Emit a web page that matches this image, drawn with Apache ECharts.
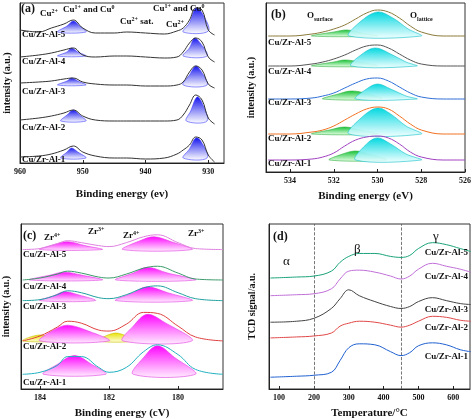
<!DOCTYPE html>
<html><head><meta charset="utf-8">
<script src="https://cdn.jsdelivr.net/npm/echarts@6/dist/echarts.min.js"></script>
<style>html,body{margin:0;padding:0;background:#fff}#c{width:474px;height:420px}</style>
</head><body><div id="c"></div>
<script>
// ---------- DATA ----------
const samples = ['Cu/Zr-Al-5','Cu/Zr-Al-4','Cu/Zr-Al-3','Cu/Zr-Al-2','Cu/Zr-Al-1'];
// (a) Cu 2p
const aX = [960,957,955,953,951.5,950,948,945,943,940,937,935,934,933,932,931,930,929];
const aY5 = [133,131,135,139,143,135,130,130,131,130,129,132,135,143,155,153,133,128];
const aY4 = [106,108,110,113,115,108,106,107,107,106,105,106,111,120,125,121,106,101];
const aY3 = [80,81,82,84,85,81,79,78,78,77,77,78,81,91,97,93,79,75];
const aY2 = [43,45,47,50,53,47,43,42,42,42,42,43,48,58,68,63,45,39];
const aY1 = [6,7,9,13,17,11,7,5,5,4,5,9,13,18,26,23,8,1];
const aPeaks = [
 [[954,131],[952.5,137],[951.5,142],[950.5,137],[949.5,131]],
 [[934,131],[933,140],[932,155],[931,150],[930,132]],
 [[954,107],[952.5,111],[951.8,115],[950.8,111],[949.5,107]],
 [[934,107],[933,115],[932.2,125],[931.3,120],[930.2,107]],
 [[954,78],[952.5,82],[951.8,85],[950.8,82],[949.5,78]],
 [[934,78],[933,88],[932,97],[931.2,92],[930.2,78]],
 [[953.5,42],[952.5,48],[951.5,53],[950.5,48],[949.5,42]],
 [[933.5,42],[932.8,52],[931.8,66],[931,60],[930.2,42]],
 [[953.5,5],[952.5,11],[951.8,15],[950.8,11],[949.5,5]],
 [[934,5],[933,14],[932,25],[931.2,22],[930.2,5]]
];
// (b) O 1s
const bX = [535,534,533,532.5,532,531.5,531,530.5,530,529.5,529,528.5,528,527,526];
const bY5 = [136,136,138,140,143,147,153,159,162,160,154,146,140,136,136];
const bY4 = [106,106,108,110,113,117,122,126,127,124,118,112,108,106,106];
const bY3 = [73,73,74,76,79,84,89,93,94,91,85,79,75,73,73];
const bY2 = [38,38,40,42,46,52,58,63,65,63,56,48,42,38,38];
const bY1 = [12,12,13,15,19,26,32,35,36,34,28,20,15,12,12];
const bLattice = [
 [[531.3,136],[530.8,150],[530,160],[529.3,154],[528.6,143],[528,136]],
 [[531.2,106],[530.7,118],[530.1,124],[529.4,118],[528.7,110],[528.2,106]],
 [[531,73],[530.5,83],[530,88],[529.4,83],[528.7,76],[528.2,73]],
 [[531.3,38],[530.7,55],[530,64],[529.4,58],[528.7,46],[528,38]],
 [[531,12],[530.5,28],[530,34],[529.4,28],[528.7,18],[528,12]]
];
const bSurface = [
 [[533,136],[532,140],[531.4,142],[530.7,139],[530,136]],
 [[533,106],[532,110],[531.5,112],[530.8,110],[530,106]],
 [[532.5,73],[531.8,78],[531.2,81],[530.6,79],[529.8,73]],
 [[533,38],[532.2,42],[531.5,45],[530.8,42],[530,38]],
 [[532.2,12],[531.6,18],[531,21],[530.4,18],[529.6,12]]
];
// (c) Zr 3d
const cX = [184.5,184,183.5,183.2,182.8,182.3,182,181.5,181,180.6,180,179.5,178.7];
const cY5 = [142,143,148,151,149,146,145,149,155,157,149,143,142];
const cY4 = [111,113,117,120,118,114,113,117,123,125,118,112,111];
const cY3 = [90,91,96,100,98,93,92,96,103,105,98,92,90];
const cY2 = [49,54,63,69,67,60,59,66,78,77,64,53,49];
const cY1 = [15,17,24,33,33,22,17,22,38,45,35,20,15];
const cZr3 = [
 [[184,142],[183.6,147],[183.2,150],[182.7,146],[182.2,142]],
 [[181.6,142],[181.1,151],[180.7,155],[180.2,150],[179.6,142]],
 [[184.3,111],[183.7,116],[183.3,119],[182.8,116],[182.2,111]],
 [[181.8,111],[181.3,118],[180.9,124],[180.3,118],[179.5,111]],
 [[184,90],[183.6,95],[183.3,99],[182.9,96],[182.4,90]],
 [[181.8,90],[181.3,98],[180.9,104],[180.3,98],[179.6,90]],
 [[184,49],[183.6,60],[183.2,65],[182.6,59],[182,49]],
 [[181.6,49],[181.3,64],[180.9,76],[180.4,68],[179.6,49]],
 [[183.9,15],[183.5,25],[183,34],[182.5,25],[182.1,15]],
 [[181.3,15],[181,32],[180.6,44],[180.1,32],[179.5,15]]
];
const cZr4 = [
 [[184.5,49],[184,55],[183.5,49]],
 [[182.3,49],[181.8,57],[181.3,49]]
];
// (d) H2-TPR
const dX = [75,150,200,250,275,300,330,375,420,450,475,500,540,580,620,650];
const dY5 = [113,114,115,120,129,135,138,138,135,134,136,143,149,147,143,140];
const dY4 = [95,96,97,102,112,120,121,119,115,112,115,122,128,125,122,119];
const dY3 = [68,69,72,82,92,101,95,89,84,82,84,89,93,90,87,86];
const dY2 = [52,53,54,57,64,67,69,68,65,63,65,69,74,73,70,69];
const dY1 = [12,13,14,17,29,42,46,45,38,34,37,44,47,45,40,38];
const dLines = [200,450];

// ---------- CHART ----------
const FONT = '"Liberation Serif","DejaVu Serif",serif';
const zip = (xs, ys) => xs.map((x,i)=>[x, ys[i]]);
const chart = echarts.init(document.getElementById('c'), null, {renderer:'canvas'});

function xAx(gi, min, max, ticks, name, gap){
  return {gridIndex:gi, type:'value', min, max, inverse: gi<3,
    name, nameLocation:'middle', nameGap:gap,
    nameTextStyle:{fontFamily:FONT, fontWeight:'bold', fontSize:11, color:'#111'},
    axisLine:{onZero:false, lineStyle:{color:'#222'}}, splitLine:{show:false},
    axisTick:{customValues:ticks, inside:true, length:3, lineStyle:{color:'#222'}},
    axisLabel:{customValues:ticks, fontFamily:FONT, fontWeight:'bold', fontSize:8, color:'#111', margin:5}};
}
function yAx(gi, max, name, gap){
  return {gridIndex:gi, type:'value', min:0, max, name, nameLocation:'middle', nameGap:gap, nameRotate:90,
    nameTextStyle:{fontFamily:FONT, fontWeight:'bold', fontSize:10, color:'#111'},
    axisLine:{show:true, lineStyle:{color:'#222'}}, axisTick:{show:false}, axisLabel:{show:false}, splitLine:{show:false}};
}
function line(gi, xs, ys, color){
  return {type:'line', xAxisIndex:gi, yAxisIndex:gi, data:zip(xs,ys), smooth:0.4, symbol:'none',
    lineStyle:{color, width:1}, z:5};
}
function fills(gi, peaks, top, bottom, edge){
  return {type:'custom', xAxisIndex:gi, yAxisIndex:gi, z:3, silent:true,
    data: peaks.map((p,i)=>[p[0][0], p[0][1], i]),
    renderItem(params, api){
      const pk = peaks[api.value(2)];
      const pts = pk.map(p=>api.coord(p));
      return {type:'polygon', shape:{points:pts, smooth:0.35},
        style:{fill:new echarts.graphic.LinearGradient(0,0,0,1,[{offset:0,color:top},{offset:1,color:bottom}]),
          stroke:edge, lineWidth:0.6}};
    }};
}
const aCol = ['#333','#333','#333','#333','#333'];
const bCol = ['#8a7a3a','#555','#2f6fd6','#f07020','#a040c0'];
const cCol = ['#e080e0','#3a9a6a','#20a0a0','#e04040','#20b0c0'];
const dCol = ['#1aa37a','#c070d8','#444','#e04848','#2060d0'];

const series = [
  fills(0, aPeaks, '#1010ee', 'rgba(255,255,255,0.9)', '#4040ff'),
  ...[aY5,aY4,aY3,aY2,aY1].map((y,i)=>line(0,aX,y,aCol[i])),
  fills(1, bSurface, '#10c030', 'rgba(230,255,230,0.9)', '#30b040'),
  fills(1, bLattice, '#00d8e0', 'rgba(240,255,255,0.9)', '#10c0c8'),
  ...[bY5,bY4,bY3,bY2,bY1].map((y,i)=>line(1,bX,y,bCol[i])),
  fills(2, cZr4, '#e8e000', 'rgba(255,255,220,0.9)', '#c8c000'),
  fills(2, cZr3, '#ff00ff', 'rgba(255,235,255,0.9)', '#e040e0'),
  ...[cY5,cY4,cY3,cY2,cY1].map((y,i)=>line(2,cX,y,cCol[i])),
  ...[dY5,dY4,dY3,dY2,dY1].map((y,i)=>line(3,dX,y,dCol[i])),
  {type:'line', xAxisIndex:3, yAxisIndex:3, data:[], markLine:{symbol:'none', silent:true, label:{show:false},
    lineStyle:{type:'dashed', color:'#555', width:0.8}, data:dLines.map(v=>({xAxis:v}))}}
];

const rich = {n:{fontFamily:FONT,fontWeight:'bold',fontSize:9,color:'#111'}, s:{fontFamily:FONT,fontWeight:'bold',fontSize:6,color:'#111',verticalAlign:'top',padding:[0,0,5,0]}, u:{fontFamily:FONT,fontWeight:'bold',fontSize:6,color:'#111',padding:[6,0,0,0]}};
function txt(x,y,text,opt={}){
  return {type:'text', x, y, z:100, style:Object.assign({text, fontFamily:FONT, fontWeight:'bold', fontSize:9, fill:'#111', align:'left', verticalAlign:'middle', rich}, opt)};
}
const labA=[35,62,92,128,160], labB=[43,72,103,139,164], labC=[255,287,307,347,383], labD=[253,277,310,328,357];
const graphic = [
  ...samples.map((s,i)=>txt(22,labA[i],s)),
  ...samples.map((s,i)=>txt(268,labB[i],s)),
  ...samples.map((s,i)=>txt(23,labC[i],s)),
  ...samples.map((s,i)=>txt(468,labD[i],s,{align:'right'})),
  txt(21,9,'(a)',{fontSize:12}), txt(271,15,'(b)',{fontSize:12}), txt(23,236,'(c)',{fontSize:12}), txt(273,237,'(d)',{fontSize:12}),
  txt(40,14,'{n|Cu}{s|2+}'),
  txt(63,10,'{n|Cu}{s|1+}{n| and Cu}{s|0}'),
  txt(120,22,'{n|Cu}{s|2+}{n| sat.}'),
  txt(166,25,'{n|Cu}{s|2+}'),
  txt(153,9,'{n|Cu}{s|1+}{n| and Cu}{s|0}'),
  txt(307,16,'{n|O}{u|surface}'),
  txt(410,16,'{n|O}{u|lattice}'),
  txt(44,238,'{n|Zr}{s|4+}'), txt(88,232,'{n|Zr}{s|3+}'), txt(123,236,'{n|Zr}{s|4+}'), txt(188,234,'{n|Zr}{s|3+}'),
  txt(283,262,'α',{fontSize:13,fontWeight:'normal'}), txt(354,250,'β',{fontSize:13,fontWeight:'normal'}), txt(433,237,'γ',{fontSize:13,fontWeight:'normal'})
];
const gb = {show:true, borderColor:'#333', borderWidth:1, backgroundColor:'transparent'};
chart.setOption({
  animation:false,
  grid:[
    Object.assign({left:20, top:3, width:204, height:160}, gb),
    Object.assign({left:266, top:3, width:200, height:169}, gb),
    Object.assign({left:21, top:224, width:202, height:168}, gb),
    Object.assign({left:269, top:224, width:201, height:168}, gb)
  ],
  xAxis:[
    xAx(0, 927.5, 960, [960,950,940,930], 'Binding energy (ev)', 26),
    xAx(1, 526, 535.1, [534,532,530,528,526], 'Binding energy (eV)', 19),
    xAx(2, 178.7, 184.55, [184,182,180], 'Binding energy (cV)', 19),
    xAx(3, 71, 648, [100,200,300,400,500,600], 'Temperature/°C', 19)
  ],
  yAxis:[yAx(0,160,'intensity (a.u.)',8), yAx(1,169,'intensity (a.u.)',10), yAx(2,168,'intensity (a.u.)',10), yAx(3,168,'TCD signal/a.u.',12)],
  series, graphic
});
</script></body></html>
